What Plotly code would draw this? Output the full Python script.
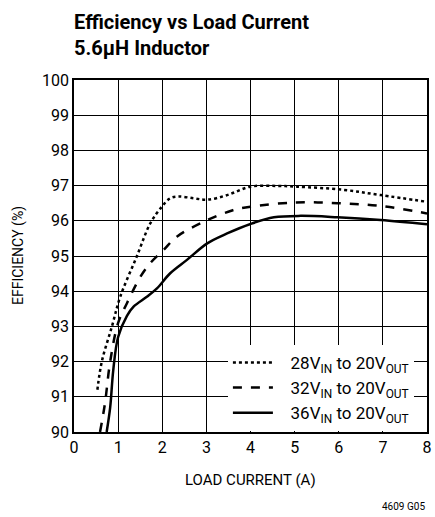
import plotly.graph_objects as go

x28 = [0.53, 0.63, 0.86, 1.05, 1.42, 1.73, 1.99, 2.18, 2.37, 2.71, 3.02, 3.47, 4.0, 4.6, 5.06, 6.1, 6.95, 8.0]
y28 = [91.2, 92.0, 93.0, 93.85, 94.98, 95.93, 96.4, 96.64, 96.69, 96.64, 96.6, 96.73, 96.97, 96.99, 96.97, 96.88, 96.73, 96.54]

x32 = [0.59, 0.70, 0.82, 1.0, 1.2, 1.5, 1.73, 2.03, 2.33, 3.02, 3.6, 4.0, 5.0, 5.97, 6.95, 8.0]
y32 = [90.0, 90.8, 92.0, 93.1, 93.66, 94.4, 94.8, 95.17, 95.55, 96.02, 96.3, 96.4, 96.52, 96.5, 96.42, 96.21]

x36 = [0.74, 0.82, 0.89, 1.0, 1.2, 1.35, 1.65, 1.88, 2.18, 2.56, 3.02, 3.47, 4.0, 4.53, 5.14, 5.97, 6.95, 8.0]
y36 = [90.0, 90.7, 91.76, 92.7, 93.3, 93.56, 93.84, 94.08, 94.51, 94.89, 95.36, 95.64, 95.91, 96.1, 96.14, 96.1, 96.02, 95.9]

PAD_L = "\u00a0\u00a0\u00a0"
names = [PAD_L + "28V<sub>IN</sub> to 20V<sub>OUT</sub>",
         PAD_L + "32V<sub>IN</sub> to 20V<sub>OUT</sub>",
         PAD_L + "36V<sub>IN</sub> to 20V<sub>OUT</sub>"]

x_ticks = [0, 1, 2, 3, 4, 5, 6, 7, 8]
y_ticks = [90, 91, 92, 93, 94, 95, 96, 97, 98, 99, 100]

FONT = "Roboto, Arial, sans-serif"

fig = go.Figure()
fig.add_trace(go.Scatter(x=x28, y=y28, mode="lines", name=names[0],
                         line=dict(color="black", width=2.5, dash="dot", shape="spline")))
fig.add_trace(go.Scatter(x=x32, y=y32, mode="lines", name=names[1],
                         line=dict(color="black", width=2.5, dash="dash", shape="spline")))
fig.add_trace(go.Scatter(x=x36, y=y36, mode="lines", name=names[2],
                         line=dict(color="black", width=2.5, shape="spline")))

fig.update_layout(
    width=435, height=517,
    margin=dict(l=74, r=8, t=80, b=85, autoexpand=False),
    paper_bgcolor="white", plot_bgcolor="white",
    font=dict(family=FONT, color="black", size=15),
    showlegend=True,
    legend=dict(x=0.436, y=0.003, xanchor="left", yanchor="bottom",
                bgcolor="white", borderwidth=0,
                font=dict(size=17, family=FONT),
                tracegroupgap=0, itemwidth=40),
    shapes=[dict(type="rect", xref="paper", yref="paper", x0=0.433, x1=1, y0=0, y1=0.205,
                 fillcolor="white", line=dict(width=0), layer="between")],
    xaxis=dict(range=[0, 8], tickvals=x_ticks, showgrid=True, gridcolor="black",
               gridwidth=1, showline=True, linecolor="black", linewidth=1.5, mirror=True,
               ticks="", zeroline=False, automargin=False,
               tickfont=dict(size=16)),
    yaxis=dict(range=[90, 100], tickvals=y_ticks, showgrid=True, gridcolor="black",
               gridwidth=1, showline=True, linecolor="black", linewidth=1.5, mirror=True,
               ticks="", zeroline=False, automargin=False,
               tickfont=dict(size=16)),
    annotations=[
        dict(text="<b>Efficiency vs Load Current<br>5.6µH Inductor</b>",
             xref="paper", yref="paper", x=0, y=1, xanchor="left", yanchor="bottom",
             yshift=18, xshift=-2, align="left", showarrow=False,
             font=dict(size=20, family=FONT)),
        dict(text="EFFICIENCY (%)", xref="paper", yref="paper", x=0, y=0.5,
             xanchor="center", yanchor="middle", xshift=-56, textangle=-90,
             showarrow=False, font=dict(size=14, family=FONT)),
        dict(text="LOAD CURRENT (A)", xref="paper", yref="paper", x=0.5, y=0,
             xanchor="center", yanchor="middle", yshift=-48,
             showarrow=False, font=dict(size=15, family=FONT)),
        dict(text="4609 G05", xref="paper", yref="paper", x=1, y=0,
             xanchor="right", yanchor="middle", yshift=-74, showarrow=False,
             font=dict(size=10, family=FONT)),
    ],
)

fig.write_html("out.html",
               config={"displayModeBar": False},
               post_script="document.body.style.margin='0px';document.body.style.overflow='hidden';")
